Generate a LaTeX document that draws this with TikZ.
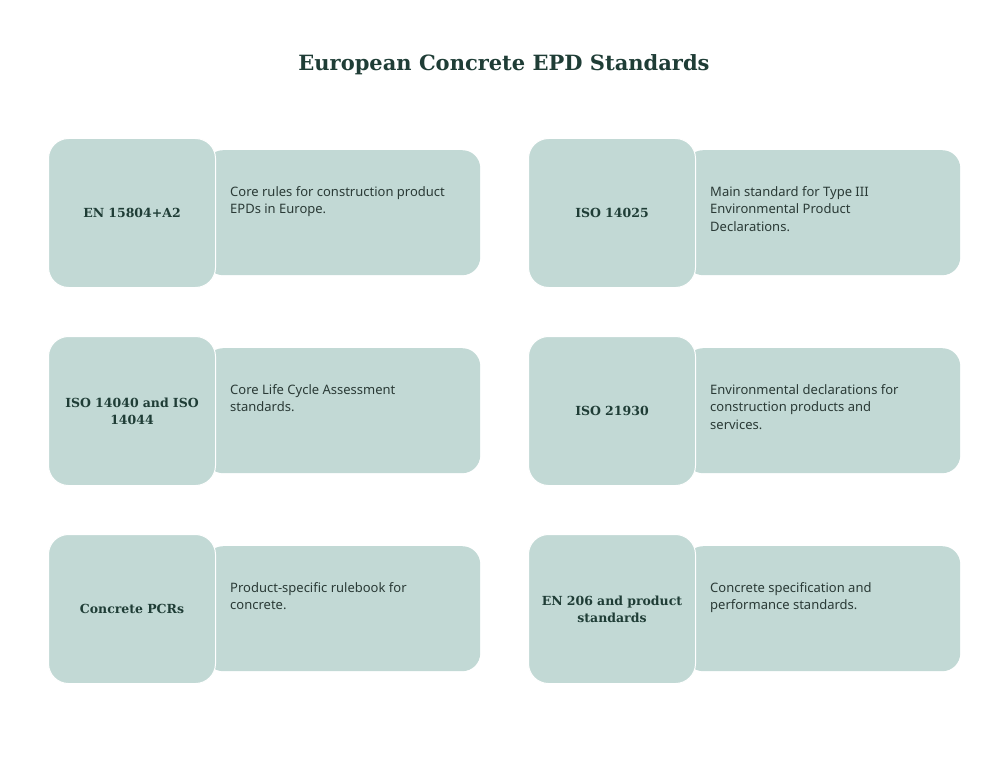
\documentclass[tikz,border=0pt]{standalone}
\usepackage{fontspec}
\setmainfont{Noto Sans}
\newfontfamily\slab{DejaVu Serif}
\definecolor{cardfill}{HTML}{C2D9D5}
\definecolor{ink}{HTML}{1F3D36}
\definecolor{txt}{HTML}{2A3A36}
\begin{document}
\begin{tikzpicture}[x=1pt,y=-1pt,
  desc/.style={fill=cardfill,draw=none,rounded corners=18pt,minimum width=275pt,minimum height=125pt,anchor=north west,inner sep=0pt},
  tag/.style={fill=cardfill,draw=white,line width=1pt,rounded corners=20pt,minimum width=167pt,minimum height=149pt,anchor=north west,inner sep=0pt,text width=150pt,align=center,font=\slab\bfseries\fontsize{12.5}{17}\selectfont,text=ink},
  dtext/.style={anchor=north west,text width=240pt,align=flush left,inner sep=0pt,font=\fontsize{13}{17.5}\selectfont,text=txt}]
\useasboundingbox (0,0) rectangle (1008,762);
\node[font=\slab\bfseries\fontsize{21}{24}\selectfont,text=ink] (title) at (504,65) {European Concrete EPD Standards};
\foreach \i/\x/\y/\t/\d in {
 a/48/138/{EN 15804+A2}/{Core rules for construction product EPDs in Europe.},
 b/528/138/{ISO 14025}/{Main standard for Type III\\Environmental Product\\Declarations.},
 c/48/336/{ISO 14040 and ISO\\14044}/{Core Life Cycle Assessment\\standards.},
 d/528/336/{ISO 21930}/{Environmental declarations for\\construction products and\\services.},
 e/48/534/{Concrete PCRs}/{Product-specific rulebook for\\concrete.},
 f/528/534/{EN 206 and product\\standards}/{Concrete specification and\\performance standards.}}{
  \node[desc] (d\i) at (\x+157,\y+12) {};
  \node[tag] (t\i) at (\x,\y) {\t};
  \node[dtext] (x\i) at (\x+182,\y+48) {\d};
}
\end{tikzpicture}
\end{document}
